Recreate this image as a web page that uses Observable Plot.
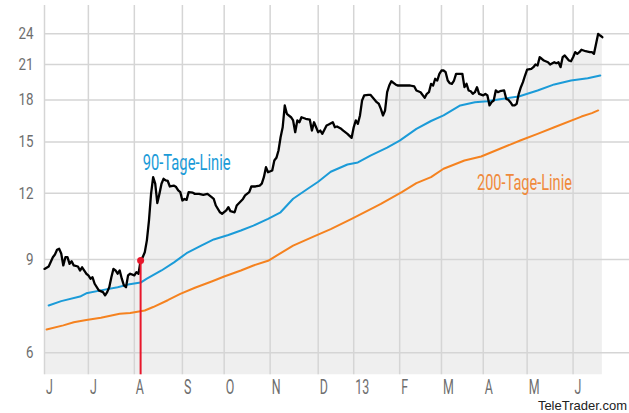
<!DOCTYPE html>
<html><head><meta charset="utf-8">
<script src="https://cdn.jsdelivr.net/npm/d3@7"></script>
<script src="https://cdn.jsdelivr.net/npm/@observablehq/plot@0.6"></script>
<style>
body{margin:0;background:#fff;}
#chart{position:relative;width:629px;height:413px;overflow:hidden;}
#chart svg{position:absolute;left:0;top:0;}
#src{position:absolute;right:2px;top:398px;font:13px "Liberation Sans",Arial,sans-serif;color:#222;}
</style></head><body>
<div id="chart"><div id="src">TeleTrader.com</div></div>
<script>
// trading-day index (0 = first trading day of June 2012) and closing price
const priceDay = [0,2,4,5,6,7,8,9,10,11,12,13,14,16,17,18,20,21,22,23,24,26,28,29,30,31,32,33,34,35,36,37,38,39,40,41,43,44,45,46,47,48,49,50,51,52,53,54,55,56,57,58,59,60,62,63,64,65,66,67,68,69,71,72,74,76,78,80,81,82,84,85,87,88,89,91,92,95,96,98,99,101,103,104,105,106,107,109,110,111,112,113,114,115,116,118,119,120,121,122,123,125,127,128,129,130,131,132,133,135,136,138,139,140,142,143,145,147,148,149,150,151,152,153,155,156,157,159,160,161,162,163,164,165,166,168,169,171,174,175,177,178,180,182,183,184,185,186,187,188,189,190,191,192,193,194,195,196,197,198,199,200,201,202,203,204,205,206,207,208,210,211,212,213,214,215,216,217,218,220,221,222,223,224,225,226,227,228,229,230,231,233,234,235,236,237,238,239,241,242,244,245,246,247,248,249,251,252,253,254,255,256,257,259,261,262,263,264,265,266,267];
const priceValue = [8.64,8.73,9.09,9.20,9.39,9.43,9.24,8.77,9.09,9.09,8.83,8.93,8.77,8.73,8.58,8.70,8.46,8.40,8.28,8.33,8.10,7.87,7.81,7.70,7.81,7.98,8.33,8.64,8.58,8.46,8.58,8.28,8.04,7.98,8.40,8.46,8.40,8.52,8.46,8.96,9.09,9.29,9.78,10.66,11.97,12.87,12.51,11.50,11.97,12.51,12.78,12.69,12.66,12.36,12.41,12.33,12.15,12.06,11.63,11.71,11.66,12.06,12.03,11.97,11.97,11.92,11.97,11.80,11.71,11.38,11.05,10.98,11.14,11.30,11.10,11.05,11.38,11.71,11.89,12.06,12.36,12.36,12.41,12.51,12.87,13.44,13.15,13.25,13.84,14.00,14.45,15.31,15.99,17.58,16.95,16.70,16.47,15.65,16.47,16.34,16.70,16.59,16.52,15.76,16.34,15.99,15.65,15.76,15.54,16.11,16.18,16.34,15.99,16.04,15.88,15.76,15.54,15.27,15.99,16.47,16.23,16.83,17.96,18.36,18.41,18.41,18.22,17.83,17.71,17.32,16.83,17.20,18.62,19.17,19.53,19.26,19.17,19.17,19.17,19.17,19.09,18.76,18.62,18.17,18.49,18.62,19.30,19.17,19.74,19.59,20.17,20.46,20.46,20.31,19.59,19.36,19.31,19.59,20.17,20.17,20.17,20.17,19.03,19.31,18.76,18.70,18.49,18.62,19.03,18.49,18.36,18.49,18.36,17.58,17.83,17.96,18.76,18.62,18.70,18.76,18.09,18.02,17.83,17.58,17.58,17.71,18.49,19.03,19.45,20.02,20.53,20.61,20.76,21.00,20.91,21.68,21.53,21.37,21.21,21.00,21.21,21.12,21.21,20.76,21.68,21.84,21.37,21.30,21.68,22.16,22.00,22.16,22.39,22.25,22.16,22.16,22.00,22.98,24.00,23.82,23.65];

// 90-day moving average
const ma90Day = [2,8,17,20,27,35,40,46,49,56,62,68,75,81,88,94,100,107,113,119,126,131,137,145,150,156,164,170,178,185,191,199,206,212,218,227,236,244,252,260,266];
const ma90Value = [7.37,7.51,7.66,7.77,7.87,7.98,8.07,8.14,8.28,8.58,8.89,9.25,9.56,9.82,10.01,10.21,10.43,10.74,11.05,11.72,12.24,12.62,13.18,13.60,13.72,14.14,14.64,15.09,15.88,16.43,16.83,17.58,17.83,17.91,18.06,18.28,18.76,19.26,19.59,19.78,20.02];

// 200-day moving average
const ma200Day = [1,9,14,20,27,36,41,48,52,59,65,72,80,86,94,100,107,119,129,137,147,158,161,171,178,185,191,201,209,218,228,236,244,257,262,265];
const ma200Value = [6.64,6.76,6.85,6.92,6.99,7.11,7.13,7.21,7.32,7.54,7.75,7.96,8.18,8.36,8.58,8.77,8.95,9.56,9.95,10.27,10.74,11.30,11.46,12.06,12.54,12.87,13.35,13.84,14.08,14.56,15.11,15.54,15.99,16.75,17.00,17.20];

// month ticks (first trading day of each month)
const monthTickDay = [0,21,43,66,86,108,131,148,170,190,210,231,253];
const monthTickLabel = ["J","J","A","S","O","N","D","13","F","M","A","M","J"];
const yTicks = [6,9,12,15,18,21,24];

// marked event
const signalDay = [46];
const signalValue = [8.96];

const seriesLabels = ["90-Tage-Linie","200-Tage-Linie"];

const price = priceDay.map((d,i)=>({day:d, value:priceValue[i]}));
const ma90 = ma90Day.map((d,i)=>({day:d, value:ma90Value[i]}));
const ma200 = ma200Day.map((d,i)=>({day:d, value:ma200Value[i]}));
const signal = signalDay.map((d,i)=>({day:d, value:signalValue[i]}));
const tickLabel = new Map(monthTickDay.map((d,i)=>[d, monthTickLabel[i]]));

const yMin = 5.453, yMax = 27.14;
const FONT = "Roboto, 'DejaVu Sans', sans-serif";
const GRID = "#d5d5d5";

const chart = Plot.plot({
  width: 629, height: 413,
  marginLeft: 44, marginRight: 0, marginTop: 5, marginBottom: 38.7,
  x: {type: "linear", domain: [0, 280]},
  y: {type: "log", domain: [yMin, yMax]},
  style: {fontFamily: FONT, background: "transparent"},
  marks: [
    Plot.areaY(price, {x: "day", y1: () => yMin, y2: "value", fill: "#efefef"}),
    Plot.ruleY(yTicks, {stroke: GRID, strokeWidth: 1.5}),
    Plot.ruleX(monthTickDay, {stroke: GRID, strokeWidth: 1.5}),
    Plot.line(ma200, {x: "day", y: "value", stroke: "#f5821f", strokeWidth: 2}),
    Plot.line(ma90, {x: "day", y: "value", stroke: "#1b9bd8", strokeWidth: 2}),
    Plot.line(price, {x: "day", y: "value", stroke: "#000", strokeWidth: 2.3, strokeLinejoin: "round"}),
    Plot.ruleX(signal, {x: "day", y1: () => yMin, y2: "value", stroke: "#e8172b", strokeWidth: 2}),
    Plot.dot(signal, {x: "day", y: "value", r: 3.5, fill: "#e8172b", stroke: "none"}),
    Plot.text([seriesLabels[0]], {x: () => 47, y: () => 13.7, text: d => d, textAnchor: "start", fill: "#1b9bd8", fontSize: 22.5}),
    Plot.text([seriesLabels[1]], {x: () => 207, y: () => 12.58, text: d => d, textAnchor: "start", fill: "#f08a3c", fontSize: 22.5}),
    Plot.axisY(yTicks, {label: null, tickSize: 0, tickPadding: 11, fontSize: 16.5, fill: "#6e6e6e", tickFormat: d => String(d)}),
    Plot.axisX(monthTickDay, {label: null, tickSize: 0, tickPadding: 5, fontSize: 19.7, fill: "#6e6e6e", textAnchor: "start", dx: 1.5, tickFormat: d => tickLabel.get(d)})
  ]
});
document.getElementById("chart").prepend(chart);

// condense texts horizontally to the narrow face of the original
function squeeze(t, s) {
  let x = 0, y = 0;
  const xa = t.getAttribute("x"), ya = t.getAttribute("y");
  if (xa !== null && xa.trim() !== "" && !isNaN(+xa)) { x = +xa; t.removeAttribute("x"); }
  if (ya !== null && ya.trim() !== "" && !isNaN(+ya)) { y = +ya; t.removeAttribute("y"); }
  const tr = t.getAttribute("transform") || "";
  t.setAttribute("transform", `${tr} translate(${x},${y}) scale(${s},1)`);
}
const monthSet = new Set(monthTickLabel);
const ySet = new Set(yTicks.map(String));
const labelWidth = new Map([[seriesLabels[0], 88], [seriesLabels[1], 95]]);
chart.querySelectorAll("text").forEach(t => {
  const s = t.textContent.trim();
  if (labelWidth.has(s)) {
    const w = t.getComputedTextLength();
    if (w > 0) squeeze(t, labelWidth.get(s) / w);
  } else if (monthSet.has(s)) {
    squeeze(t, 0.63);
  } else if (ySet.has(s)) {
    squeeze(t, 0.81);
  }
});
</script>
</body></html>
